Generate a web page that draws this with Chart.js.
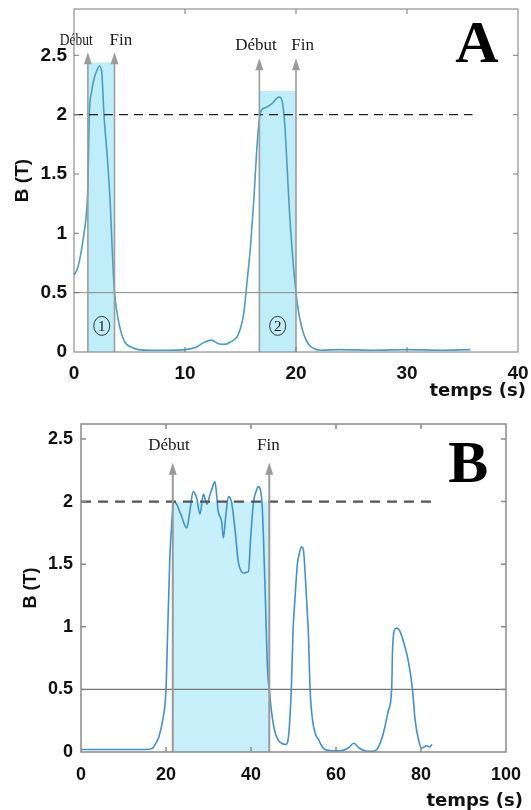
<!DOCTYPE html>
<html>
<head>
<meta charset="utf-8">
<script src="https://cdn.jsdelivr.net/npm/chart.js@4.4.1/dist/chart.umd.min.js"></script>
<style>
html, body { margin: 0; padding: 0; background: #fff; }
#wrapA { position: absolute; left: 0; top: 0; width: 531px; height: 400px; }
#wrapB { position: absolute; left: 0; top: 400px; width: 531px; height: 410px; }
</style>
</head>
<body>
<div id="wrapA"><canvas id="chartA"></canvas></div>
<div id="wrapB"><canvas id="chartB"></canvas></div>
<script>
// --- panel A : B (T) versus temps (s)
const timeA = [0, 0.3, 0.6, 0.9, 1.1, 1.25, 1.38, 1.6, 1.8, 2.05, 2.3, 2.5, 2.7, 3.0, 3.25, 3.45, 3.65, 3.9, 4.2, 4.6, 5.2, 5.8, 7, 8.5, 10, 11, 11.7, 12.4, 13.0, 13.6, 14.2, 14.7, 15.0, 15.3, 15.6, 15.9, 16.2, 16.5, 16.8, 17.3, 17.8, 18.2, 18.5, 18.8, 19.0, 19.2, 19.4, 19.7, 20.0, 20.3, 20.7, 21.1, 21.6, 22.3, 24, 27, 30, 33, 35.7];
const fieldA = [0.65, 0.7, 0.82, 1.0, 1.15, 1.4, 2.0, 2.2, 2.3, 2.37, 2.41, 2.36, 2.0, 1.64, 1.28, 0.85, 0.5, 0.32, 0.18, 0.08, 0.04, 0.02, 0.015, 0.015, 0.02, 0.04, 0.08, 0.1, 0.07, 0.065, 0.09, 0.13, 0.2, 0.33, 0.6, 0.89, 1.28, 1.75, 2.02, 2.06, 2.09, 2.13, 2.15, 2.09, 1.9, 1.56, 1.2, 0.8, 0.5, 0.3, 0.15, 0.07, 0.03, 0.015, 0.02, 0.015, 0.02, 0.015, 0.02];
const xTicksA = [0, 10, 20, 30, 40];
const yTicksA = [0, 0.5, 1, 1.5, 2, 2.5];
const windowStartA = [1.25, 16.7];
const windowEndA = [3.65, 20.0];
const windowTopA = [2.44, 2.2];
const arrowTipsA = [2.525, 2.525, 2.475, 2.475];
const labelsA = ['Début', 'Fin', 'Début', 'Fin'];

// --- panel B
const timeB = [0, 4, 8, 12, 15, 16.8, 17.8, 18.4, 19.2, 20.0, 20.4, 20.9, 21.4, 21.8, 22.5, 23.1, 23.7, 24.3, 24.9, 25.6, 26.4, 27.2, 28.0, 28.8, 29.6, 30.4, 31.0, 31.5, 32.3, 33.1, 33.5, 34.1, 34.7, 35.4, 36.2, 37.0, 37.6, 38.2, 39.4, 39.9, 40.6, 41.2, 41.7, 42.5, 42.9, 43.4, 43.9, 44.3, 44.8, 45.5, 46.3, 47.2, 48.2, 48.9, 49.5, 49.9, 50.4, 50.9, 51.4, 51.9, 52.3, 52.7, 53.1, 53.5, 53.9, 54.5, 55.2, 55.9, 56.6, 57.4, 59, 61, 62.8, 64.2, 65.5, 66.8, 68.6, 69.6, 70.7, 71.5, 72.3, 73.1, 73.3, 73.7, 74.3, 75.1, 75.8, 77.0, 78.0, 78.6, 79.4, 80.2, 81.3, 82.0, 82.6];
const fieldB = [0.02, 0.02, 0.02, 0.02, 0.02, 0.03, 0.08, 0.13, 0.25, 0.5, 0.97, 1.55, 1.85, 2.0, 1.98, 1.93, 1.88, 1.82, 1.79, 1.92, 2.08, 2.03, 1.9, 2.06, 1.98, 2.06, 2.12, 2.16, 1.92, 1.84, 1.71, 1.9, 2.04, 2.0, 1.79, 1.52, 1.45, 1.43, 1.44, 1.7, 2.0, 2.08, 2.12, 2.03, 1.75, 1.2, 0.65, 0.5, 0.33, 0.18, 0.1, 0.07, 0.06, 0.15, 0.52, 0.97, 1.25, 1.5, 1.59, 1.64, 1.62, 1.45, 1.2, 0.95, 0.5, 0.25, 0.14, 0.1, 0.05, 0.02, 0.01, 0.01, 0.03, 0.07, 0.03, 0.01, 0.005, 0.02, 0.1, 0.2, 0.33, 0.5, 0.81, 0.97, 0.99, 0.96, 0.89, 0.73, 0.5, 0.26, 0.1, 0.03, 0.05, 0.04, 0.06];
const xTicksB = [0, 20, 40, 60, 80, 100];
const yTicksB = [0, 0.5, 1, 1.5, 2, 2.5];
const windowStartB = [21.6];
const windowEndB = [44.3];
const windowTopB = [2.0];
const arrowTipsB = [2.31, 2.31];
const labelsB = ['Début', 'Fin'];

const SEUIL_HAUT = 2;
const SEUIL_BAS = 0.5;

function pts(xs, ys) {
  return xs.map((x, i) => ({ x: x, y: ys[i] }));
}

function shadeSets(starts, ends, tops, color) {
  return starts.map((s, i) => ({
    data: pts([s, ends[i]], [tops[i], tops[i]]),
    fill: 'origin', backgroundColor: color, borderWidth: 0,
    pointRadius: 0, order: 10
  }));
}

// frame, inner ticks, arrows and texts
function decor(cfg) {
  return {
    id: 'decor' + cfg.name,
    afterDatasetsDraw(chart) {
      const { ctx, chartArea: a, scales: { x, y } } = chart;
      ctx.save();
      // arrows
      ctx.strokeStyle = cfg.arrowColor;
      ctx.fillStyle = cfg.arrowColor;
      ctx.lineWidth = cfg.arrowWidth;
      cfg.arrows.forEach((t, i) => {
        const px = x.getPixelForValue(t);
        const tip = y.getPixelForValue(cfg.tips[i]);
        ctx.beginPath();
        ctx.moveTo(px, y.getPixelForValue(0));
        ctx.lineTo(px, tip + 10);
        ctx.stroke();
        ctx.beginPath();
        ctx.moveTo(px, tip);
        ctx.lineTo(px - 4, tip + 12);
        ctx.lineTo(px + 4, tip + 12);
        ctx.closePath();
        ctx.fill();
      });
      // Début / Fin
      ctx.fillStyle = '#1a1a1a';
      ctx.textAlign = 'center';
      ctx.textBaseline = 'middle';
      ctx.font = '17px "Liberation Serif"';
      cfg.labels.forEach((txt, i) => {
        const px = x.getPixelForValue(cfg.labelX[i]);
        const py = y.getPixelForValue(cfg.labelY[i]);
        if (cfg.labelMax[i]) ctx.fillText(txt, px, py, cfg.labelMax[i]);
        else ctx.fillText(txt, px, py);
      });
      // circled numbers
      (cfg.circles || []).forEach((c, i) => {
        const px = x.getPixelForValue(c[0]);
        const py = y.getPixelForValue(c[1]);
        ctx.beginPath();
        ctx.ellipse(px, py, 8, 9.5, 0, 0, Math.PI * 2);
        ctx.strokeStyle = '#333';
        ctx.lineWidth = 1;
        ctx.stroke();
        ctx.font = '15px "Liberation Serif"';
        ctx.fillText(String(i + 1), px, py + 1);
      });
      // big letter
      ctx.font = 'bold 60px "Liberation Serif"';
      ctx.fillStyle = '#000';
      ctx.textBaseline = 'alphabetic';
      ctx.fillText(cfg.letter, x.getPixelForValue(cfg.letterPos[0]), y.getPixelForValue(cfg.letterPos[1]));
      // x title
      ctx.font = 'bold 18px "DejaVu Sans"';
      ctx.textAlign = 'right';
      ctx.textBaseline = 'middle';
      ctx.fillStyle = '#111';
      ctx.fillText('temps (s)', a.right + cfg.titleDx, a.bottom + cfg.titleDy);
      // frame
      ctx.strokeStyle = cfg.frameColor;
      ctx.lineWidth = cfg.frameWidth;
      ctx.strokeRect(a.left, a.top, a.right - a.left, a.bottom - a.top);
      ctx.beginPath();
      x.ticks.forEach(t => {
        const px = x.getPixelForValue(t.value);
        if (px <= a.left + 1 || px >= a.right - 1) return;
        ctx.moveTo(px, a.bottom); ctx.lineTo(px, a.bottom - 5);
        ctx.moveTo(px, a.top); ctx.lineTo(px, a.top + 5);
      });
      y.ticks.forEach(t => {
        const py = y.getPixelForValue(t.value);
        if (py >= a.bottom - 1 || py <= a.top + 1) return;
        ctx.moveTo(a.left, py); ctx.lineTo(a.left + 5, py);
        ctx.moveTo(a.right, py); ctx.lineTo(a.right - 5, py);
      });
      ctx.stroke();
      ctx.restore();
    }
  };
}

function makeChart(id, o) {
  return new Chart(document.getElementById(id), {
    type: 'line',
    data: {
      datasets: [
        { data: pts(o.time, o.field), borderColor: o.curveColor, borderWidth: 1.6,
          pointRadius: 0, fill: false, cubicInterpolationMode: 'monotone', order: 1 },
        { data: pts([0, o.dashEnd], [SEUIL_HAUT, SEUIL_HAUT]), borderColor: o.dashColor,
          borderWidth: o.dashWidth, borderDash: o.dash, pointRadius: 0, order: 0 },
        { data: pts([0, o.xMax], [SEUIL_BAS, SEUIL_BAS]), borderColor: o.lowColor,
          borderWidth: o.lowWidth, pointRadius: 0, order: 0 }
      ].concat(o.shades)
    },
    options: {
      responsive: true,
      maintainAspectRatio: false,
      animation: false,
      layout: { padding: o.padding },
      plugins: { legend: { display: false }, tooltip: { enabled: false } },
      scales: {
        x: {
          type: 'linear', min: 0, max: o.xMax,
          grid: { display: false, drawTicks: false },
          border: { display: false },
          afterBuildTicks: s => { s.ticks = o.xTicks.map(v => ({ value: v })); },
          afterFit: s => { s.height = o.xHeight; s.paddingLeft = 0; s.paddingRight = 0; },
          ticks: { font: { family: 'Liberation Sans', weight: 'bold', size: o.tickSize },
                   color: '#111', padding: o.xPad, maxRotation: 0, callback: v => String(v) }
        },
        y: {
          type: 'linear', min: 0, max: o.yMax,
          grid: { display: false, drawTicks: false },
          border: { display: false },
          afterBuildTicks: s => { s.ticks = o.yTicks.map(v => ({ value: v })); },
          afterFit: s => { s.width = o.yWidth; s.paddingTop = 0; s.paddingBottom = 0; },
          ticks: { font: { family: 'Liberation Sans', weight: 'bold', size: o.tickSize },
                   color: '#111', padding: o.yPad, callback: v => String(v) },
          title: { display: true, text: 'B (T)', color: '#111',
                   font: { family: 'Liberation Sans', weight: 'bold', size: o.titleSize },
                   padding: { top: o.titlePad, bottom: 0 } }
        }
      }
    },
    plugins: [decor(o.decor)]
  });
}

makeChart('chartA', {
  time: timeA, field: fieldA, curveColor: '#4a9fbf',
  xMax: 40, yMax: 2.89, xTicks: xTicksA, yTicks: yTicksA,
  dashEnd: 35.9, dashColor: '#222', dashWidth: 1.4, dash: [9, 6],
  lowColor: '#8a8a8a', lowWidth: 1,
  shades: shadeSets(windowStartA, windowEndA, windowTopA, '#bfeef8'),
  padding: { left: 0, top: 9, right: 13, bottom: 0 },
  xHeight: 48, yWidth: 74, tickSize: 19, xPad: 10, yPad: 7, titleSize: 19, titlePad: 11,
  decor: {
    name: 'A', arrowColor: '#9c9c9c', arrowWidth: 1.6,
    arrows: [windowStartA[0], windowEndA[0], windowStartA[1], windowEndA[1]],
    tips: arrowTipsA, labels: labelsA,
    labelX: [0.2, 4.23, 16.4, 20.6], labelY: [2.626, 2.626, 2.584, 2.584],
    labelMax: [33, 0, 0, 0],
    circles: [[2.5, 0.22], [18.35, 0.22]],
    letter: 'A', letterPos: [36.3, 2.44],
    titleDx: 8, titleDy: 39,
    frameColor: '#7a7a7a', frameWidth: 1
  }
});

makeChart('chartB', {
  time: timeB, field: fieldB, curveColor: '#3f92d2',
  xMax: 100, yMax: 2.62, xTicks: xTicksB, yTicks: yTicksB,
  dashEnd: 83.5, dashColor: '#555', dashWidth: 2.2, dash: [10, 7],
  lowColor: '#777', lowWidth: 1.4,
  shades: shadeSets(windowStartB, windowEndB, windowTopB, '#c8f0fa'),
  padding: { left: 0, top: 24, right: 25, bottom: 0 },
  xHeight: 58, yWidth: 81, tickSize: 18, xPad: 12, yPad: 8, titleSize: 18, titlePad: 20,
  decor: {
    name: 'B', arrowColor: '#9a9a9a', arrowWidth: 2,
    arrows: [windowStartB[0], windowEndB[0]],
    tips: arrowTipsB, labels: labelsB,
    labelX: [20.7, 44.1], labelY: [2.45, 2.45],
    labelMax: [0, 0],
    letter: 'B', letterPos: [91.1, 2.155],
    titleDx: 17, titleDy: 49,
    frameColor: '#8a8a8a', frameWidth: 1.5
  }
});
</script>
</body>
</html>
